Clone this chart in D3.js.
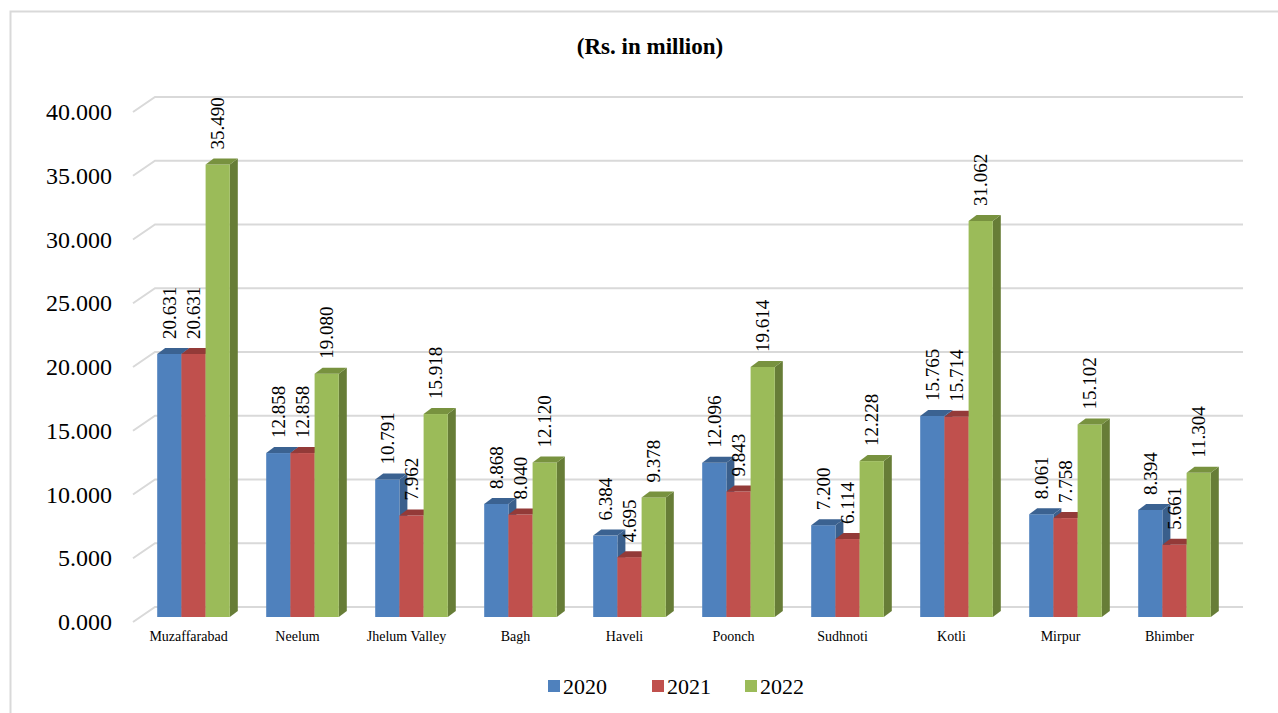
<!DOCTYPE html>
<html><head><meta charset="utf-8">
<script src="https://cdn.jsdelivr.net/npm/d3@7"></script>
<style>
html,body{margin:0;padding:0;background:#fff;}
svg text{font-family:'Liberation Serif','Times New Roman',serif !important;}
</style></head>
<body>
<svg id="chart" width="1278" height="713"></svg>
<script>
const categories = ["Muzaffarabad","Neelum","Jhelum Valley","Bagh","Haveli","Poonch","Sudhnoti","Kotli","Mirpur","Bhimber"];
const seriesNames = ["2020","2021","2022"];
const values2020 = [20.631,12.858,10.791,8.868,6.384,12.096,7.200,15.765,8.061,8.394];
const values2021 = [20.631,12.858,7.962,8.040,4.695,9.843,6.114,15.714,7.758,5.661];
const values2022 = [35.490,19.080,15.918,12.120,9.378,19.614,12.228,31.062,15.102,11.304];
const yTicks = [0,5,10,15,20,25,30,35,40];
const title = "(Rs. in million)";

const colors = {
  "2020": {front:"#4F81BD", top:"#3B6291", side:"#3A5F8C"},
  "2021": {front:"#C0504D", top:"#933A38", side:"#8E3835"},
  "2022": {front:"#9BBB59", top:"#78923F", side:"#677D37"}
};
const seriesValues = {"2020":values2020,"2021":values2021,"2022":values2022};
const FONT = "'Liberation Serif','Times New Roman',serif";

const svg = d3.select("#chart");

svg.append("path").attr("d","M10.5,713 L10.5,11.5 L1278,11.5")
  .attr("fill","none").attr("stroke","#d9d9d9").attr("stroke-width",2);

svg.append("text").attr("x",650).attr("y",54).attr("text-anchor","middle")
  .attr("font-family",FONT).attr("font-weight","bold").attr("font-size",23).attr("fill","#000").text(title);

const y = d3.scaleLinear().domain([0,40]).range([617,107]);
const x = d3.scaleBand().domain(categories).range([139,1229]).padding(0);
const xs = d3.scaleBand().domain(seriesNames).range([-36.3,36.3]);

const gDX = 22, gDY = -15;
const bDX = 8, bDY = -6;
const frontOff = 5;

const grid = svg.append("g");
yTicks.forEach(t=>{
  const fy = y(t)+frontOff;
  grid.append("path")
    .attr("d",`M133,${fy} L${133+gDX},${fy+gDY} L1243,${fy+gDY}`)
    .attr("fill","none").attr("stroke","#d9d9d9").attr("stroke-width",2);
});

const yAxis = d3.axisLeft(y).tickValues(yTicks).tickFormat(d3.format(".3f")).tickSize(0).tickPadding(0);
const ya = svg.append("g").attr("transform","translate(112,5)").call(yAxis)
  .attr("font-family",FONT);
ya.select(".domain").remove();
ya.selectAll("text").attr("font-size",24).attr("fill","#000");

const bars = svg.append("g");
categories.forEach((c,i)=>{
  seriesNames.forEach(s=>{
    const v = seriesValues[s][i];
    const x0 = x(c)+x.bandwidth()/2 + xs(s);
    const w = xs.bandwidth();
    const yt = y(v), yb = y(0);
    const col = colors[s];
    bars.append("path")
      .attr("d",`M${x0+w},${yb} L${x0+w+bDX},${yb+bDY} L${x0+w+bDX},${yt+bDY} L${x0+w},${yt} Z`)
      .attr("fill",col.side);
    bars.append("rect").attr("x",x0).attr("y",yt).attr("width",w).attr("height",yb-yt).attr("fill",col.front);
    bars.append("path")
      .attr("d",`M${x0},${yt} L${x0+bDX},${yt+bDY} L${x0+w+bDX},${yt+bDY} L${x0+w},${yt} Z`)
      .attr("fill",col.top);
  });
});

const labels = svg.append("g");
categories.forEach((c,i)=>{
  seriesNames.forEach(s=>{
    const v = seriesValues[s][i];
    const cx = x(c)+x.bandwidth()/2 + xs(s) + xs.bandwidth()/2;
    const ty = y(v)-15;
    labels.append("text")
      .attr("transform",`translate(${cx},${ty}) rotate(-90)`)
      .attr("dy","0.35em").attr("text-anchor","start")
      .attr("font-family",FONT).attr("font-size",19).attr("fill","#000")
      .text(d3.format(".3f")(v));
  });
});

const xAxis = d3.axisBottom(x).tickSize(0).tickPadding(0);
const xa = svg.append("g").attr("transform","translate(-5,631)").call(xAxis)
  .attr("font-family",FONT);
xa.select(".domain").remove();
xa.selectAll("text").attr("font-size",14).attr("fill","#000");

const legX = [548,652,745];
const leg = svg.append("g");
seriesNames.forEach((s,i)=>{
  leg.append("rect").attr("x",legX[i]).attr("y",680).attr("width",12).attr("height",12).attr("fill",colors[s].front);
  leg.append("text").attr("x",legX[i]+15).attr("y",694).attr("font-family",FONT).attr("font-size",22).attr("fill","#000").text(s);
});
</script>
</body></html>
